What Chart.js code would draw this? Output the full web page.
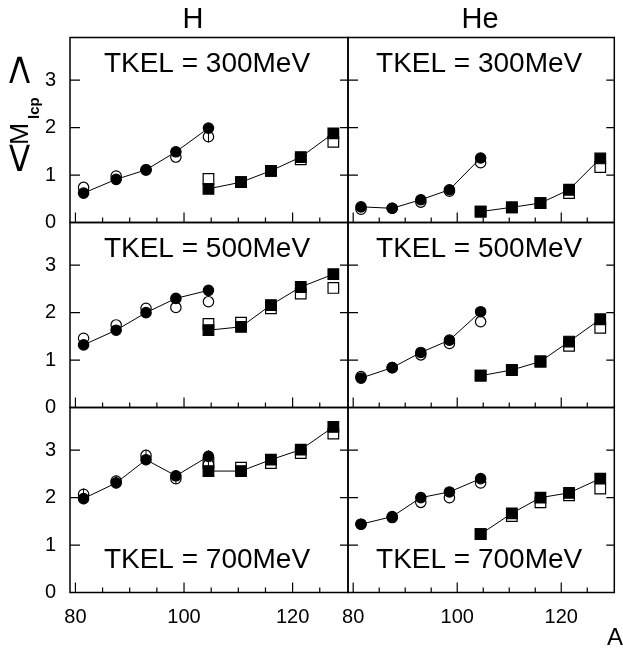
<!DOCTYPE html>
<html>
<head>
<meta charset="utf-8">
<script src="https://cdn.jsdelivr.net/npm/chart.js@4.4.1/dist/chart.umd.min.js"></script>
<style>
  body { margin: 0; background: #fff; }
  #wrap { position: relative; width: 623px; height: 652px; overflow: hidden; }
  #wrap canvas { position: absolute; left: 0; top: 0; }
</style>
</head>
<body>
<div id="wrap"></div>
<script>
// mass number A of the fragments (circles = light, squares = heavy)
var circleA = [81.5, 87.5, 93, 98.5, 104.5];
var squareA = [104.5, 110.5, 116, 121.5, 127.5];

// <M_lcp> for H, filled / open markers
var h300Dot  = [0.62, 0.91, 1.11, 1.49, 1.99];
var h300Ring = [0.74, 0.98, 1.11, 1.38, 1.81];
var h300Sq   = [0.71, 0.85, 1.09, 1.38, 1.88];
var h300Box  = [0.92, 0.85, 1.09, 1.33, 1.70];

var h500Dot  = [1.32, 1.63, 2.00, 2.30, 2.47];
var h500Ring = [1.46, 1.74, 2.09, 2.11, 2.23];
var h500Sq   = [1.63, 1.70, 2.16, 2.54, 2.81];
var h500Box  = [1.76, 1.79, 2.09, 2.40, 2.52];

var h700Dot  = [1.98, 2.31, 2.80, 2.46, 2.87];
var h700Ring = [2.07, 2.35, 2.89, 2.40, 2.70];
var h700Sq   = [2.56, 2.56, 2.80, 3.01, 3.49];
var h700Box  = [2.73, 2.63, 2.73, 2.94, 3.35];

// <M_lcp> for He
var he300Dot  = [0.33, 0.30, 0.48, 0.69, 1.36];
var he300Ring = [0.28, 0.30, 0.43, 0.66, 1.26];
var he300Sq   = [0.23, 0.32, 0.41, 0.69, 1.35];
var he300Box  = [0.23, 0.32, 0.41, 0.62, 1.17];

var he500Dot  = [0.62, 0.84, 1.16, 1.42, 2.02];
var he500Ring = [0.65, 0.84, 1.11, 1.35, 1.81];
var he500Sq   = [0.67, 0.79, 0.97, 1.39, 1.86];
var he500Box  = [0.67, 0.79, 0.97, 1.30, 1.68];

var he700Dot  = [1.44, 1.60, 2.00, 2.12, 2.40];
var he700Ring = [1.44, 1.58, 1.90, 2.00, 2.31];
var he700Sq   = [1.23, 1.67, 2.00, 2.10, 2.40];
var he700Box  = [1.23, 1.61, 1.90, 2.05, 2.19];

// error bars (only where they stick out of the markers)
var h300RingErr = [0, 0, 0, 0, 0.12];
var h700DotErr  = [0.12, 0.12, 0.12, 0.1, 0.13];
var h700RingErr = [0.12, 0.12, 0.12, 0.1, 0.13];
var h700SqErr   = [0, 0, 0, 0, 0.1];

var columns = ['H', 'He'];
var energies = ['300MeV', '500MeV', '700MeV'];

var FONT = '"Liberation Sans", Arial, Helvetica, sans-serif';
var colLeft = [70, 348], colRight = [348, 626];
var rowTop = [37.5, 222.5, 407.5], rowBottom = [222.5, 407.5, 592.5];
var titleX = [193, 480];

var panels = [
    { row: 0, col: 0, dot: h300Dot, ring: h300Ring, sq: h300Sq, box: h300Box, ringErr: h300RingErr },
    { row: 0, col: 1, dot: he300Dot, ring: he300Ring, sq: he300Sq, box: he300Box },
    { row: 1, col: 0, dot: h500Dot, ring: h500Ring, sq: h500Sq, box: h500Box },
    { row: 1, col: 1, dot: he500Dot, ring: he500Ring, sq: he500Sq, box: he500Box },
    { row: 2, col: 0, dot: h700Dot, ring: h700Ring, sq: h700Sq, box: h700Box, dotErr: h700DotErr, ringErr: h700RingErr, sqErr: h700SqErr },
    { row: 2, col: 1, dot: he700Dot, ring: he700Ring, sq: he700Sq, box: he700Box }
];

function pts(xs, ys, errs) {
    return xs.map(function(x, i) { return { x: x, y: ys[i], e: errs ? errs[i] : 0 }; });
}

function series(xs, ys, errs, style, filled, line) {
    return {
        data: pts(xs, ys, errs),
        showLine: line,
        borderColor: '#000',
        borderWidth: 1,
        pointStyle: style,
        pointRadius: style === 'rect' ? 7.5 : 5.2,
        pointBorderWidth: 1.2,
        pointBackgroundColor: filled ? '#000' : '#fff',
        pointBorderColor: '#000',
        clip: false
    };
}

// frame, inward ticks, error bars and the texts
var panelDeco = {
    id: 'panelDeco',
    afterDatasetsDraw: function(chart) {
        var p = chart.options.plugins.panelDeco;
        var ctx = chart.ctx, a = chart.chartArea;
        var xs = chart.scales.x, ys = chart.scales.y;
        ctx.save();

        // error bars
        ctx.strokeStyle = '#000';
        ctx.lineWidth = 1;
        chart.data.datasets.forEach(function(ds) {
            ds.data.forEach(function(d) {
                if (!d.e) return;
                var px = xs.getPixelForValue(d.x);
                ctx.beginPath();
                ctx.moveTo(px, ys.getPixelForValue(d.y - d.e));
                ctx.lineTo(px, ys.getPixelForValue(d.y + d.e));
                ctx.stroke();
            });
        });

        // ticks pointing inwards
        ctx.lineWidth = 1.2;
        xs.ticks.forEach(function(t) {
            var px = xs.getPixelForValue(t.value);
            if (px < a.left + 2 || px > a.right - 2) return;
            var len = t.value % 20 === 0 ? 10 : 5;
            ctx.beginPath();
            ctx.moveTo(px, a.bottom);
            ctx.lineTo(px, a.bottom - len);
            ctx.stroke();
        });
        ys.ticks.forEach(function(t) {
            var py = ys.getPixelForValue(t.value);
            if (py > a.bottom - 2) return;
            ctx.beginPath();
            ctx.moveTo(a.left, py);
            ctx.lineTo(a.left + 10, py);
            ctx.moveTo(a.right, py);
            ctx.lineTo(a.right - 8, py);
            ctx.stroke();
        });

        // frame
        ctx.lineWidth = 1.5;
        ctx.strokeRect(a.left, a.top, a.right - a.left, a.bottom - a.top);

        // energy label
        ctx.fillStyle = '#000';
        ctx.font = '28px ' + FONT;
        ctx.textAlign = 'center';
        ctx.textBaseline = 'alphabetic';
        var cx = (a.left + a.right) / 2 - 2;
        var by = p.row === 2 ? a.bottom - 24.5 : a.top + 34;
        ctx.fillText('TKEL = ' + energies[p.row], cx, by);

        // column title
        if (p.row === 0) {
            ctx.font = '29px ' + FONT;
            ctx.fillText(columns[p.col], titleX[p.col], 28);
        }

        // axis titles
        if (p.row === 2 && p.col === 1) {
            ctx.font = '24px ' + FONT;
            ctx.textAlign = 'left';
            ctx.fillText('A', 607, 645);
        }
        if (p.row === 0 && p.col === 0) {
            ctx.translate(28, 171);
            ctx.rotate(-Math.PI / 2);
            ctx.textAlign = 'left';
            ctx.font = '40px ' + FONT;
            ctx.save();
            ctx.scale(1.35, 1);
            ctx.fillText('<', -2, 4.5);
            ctx.restore();
            ctx.font = '26.5px ' + FONT;
            ctx.fillText('M', 26, 0);
            ctx.font = 'bold 15px ' + FONT;
            ctx.fillText('lcp', 52, 11);
            ctx.font = '40px ' + FONT;
            ctx.save();
            ctx.translate(88, 0);
            ctx.scale(1.35, 1);
            ctx.fillText('>', -2, 4.5);
            ctx.restore();
        }
        ctx.restore();
    }
};

var wrap = document.getElementById('wrap');

panels.forEach(function(p) {
    var cv = document.createElement('canvas');
    cv.width = 623;
    cv.height = 652;
    wrap.appendChild(cv);

    var axisW = colLeft[p.col];
    var axisH = 652 - rowBottom[p.row];

    new Chart(cv.getContext('2d'), {
        type: 'scatter',
        data: {
            datasets: [
                series(circleA, p.dot, p.dotErr, 'circle', true, true),
                series(squareA, p.sq, p.sqErr, 'rect', true, true),
                series(circleA, p.ring, p.ringErr, 'circle', false, false),
                series(squareA, p.box, p.boxErr, 'rect', false, false)
            ]
        },
        options: {
            responsive: false,
            animation: false,
            events: [],
            layout: {
                padding: {
                    left: 0,
                    top: rowTop[p.row],
                    right: 623 - colRight[p.col],
                    bottom: 0
                }
            },
            plugins: {
                legend: { display: false },
                tooltip: { enabled: false },
                panelDeco: p
            },
            scales: {
                x: {
                    type: 'linear',
                    min: 79,
                    max: 130.2,
                    grid: { display: false },
                    border: { display: false },
                    afterFit: function(s) { s.height = axisH; },
                    ticks: {
                        display: p.row === 2,
                        stepSize: 5,
                        includeBounds: false,
                        autoSkip: false,
                        maxRotation: 0,
                        padding: 5,
                        color: '#000',
                        font: { family: FONT, size: 20 },
                        callback: function(v) { return v % 20 === 0 ? String(v) : ''; }
                    }
                },
                y: {
                    type: 'linear',
                    min: 0,
                    max: 3.9,
                    grid: { display: false },
                    border: { display: false },
                    afterFit: function(s) { s.width = axisW; },
                    ticks: {
                        display: p.col === 0,
                        stepSize: 1,
                        includeBounds: false,
                        padding: 6,
                        color: '#000',
                        font: { family: FONT, size: 20 }
                    }
                }
            }
        },
        plugins: [panelDeco]
    });
});
</script>
</body>
</html>
